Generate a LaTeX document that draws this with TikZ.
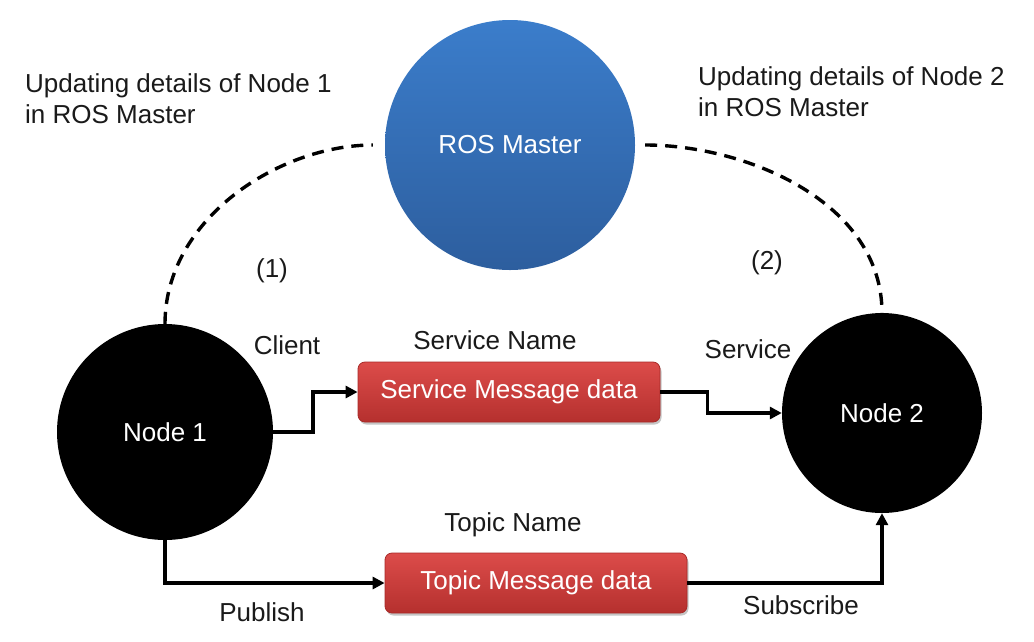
\documentclass[tikz,border=0pt]{standalone}
\usepackage{fontspec}
\setmainfont{Liberation Sans}
\usetikzlibrary{arrows.meta,shadows}
\definecolor{txt}{HTML}{1A1A1A}
\definecolor{bluetop}{HTML}{3B7DCB}
\definecolor{bluebot}{HTML}{2D5E9E}
\definecolor{redtop}{HTML}{DC4C4A}
\definecolor{redbot}{HTML}{B5302E}
\definecolor{redline}{HTML}{A82A28}
\begin{document}
\begin{tikzpicture}[x=1pt,y=-1pt,
  lbl/.style={font=\fontsize{26}{31}\selectfont, text=txt, inner sep=0pt},
  master/.style={circle, minimum size=250pt, inner sep=0pt, top color=bluetop, bottom color=bluebot, draw=none, text=white, font=\fontsize{26}{31}\selectfont},
  blk/.style={circle, fill=black, inner sep=0pt, text=white, font=\fontsize{26}{31}\selectfont},
  msg/.style={rectangle, rounded corners=7pt, minimum width=302pt, minimum height=60pt, top color=redtop, bottom color=redbot, draw=redline, line width=0.8pt, text=white, font=\fontsize{26}{31}\selectfont, drop shadow={shadow xshift=1.5pt, shadow yshift=-2.5pt, fill=black!45, opacity=0.5}},
  conn/.style={line width=3.6pt, -{Triangle[length=12pt,width=12pt]}},
  dsh/.style={line width=3.4pt, dash pattern=on 12pt off 8pt}
]
\useasboundingbox (0,0) rectangle (1034,641);
\fill[white] (0,0) rectangle (1034,641);

% nodes
\node[master] (m) at (510,145) {ROS Master};
\node[blk, minimum size=216pt] (n1) at (165,432) {Node 1};
\node[blk, minimum size=200pt] (n2) at (882,413) {Node 2};
\node[msg] (s) at (509,392) {Service Message data};
\node[msg] (t) at (536,583) {Topic Message data};

% labels
\node[lbl, anchor=north west, align=left] (u1) at (25,73) {Updating details of Node 1\\in ROS Master};
\node[lbl, anchor=north west, align=left] (u2) at (698,66) {Updating details of Node 2\\in ROS Master};
\node[lbl, anchor=base] (p1) at (272,277) {(1)};
\node[lbl, anchor=base] (p2) at (767,269) {(2)};
\node[lbl, anchor=base] (cl) at (287,354) {Client};
\node[lbl, anchor=base] (sn) at (495,349) {Service Name};
\node[lbl, anchor=base] (sv) at (748,358) {Service};
\node[lbl, anchor=base] (tn) at (513,531) {Topic Name};
\node[lbl, anchor=base] (pb) at (262,621) {Publish};
\node[lbl, anchor=base] (sb) at (801,614) {Subscribe};

% dashed registration arcs
\draw[dsh, shorten >=12pt] (n1.north) to[out=90, in=180, looseness=0.95] (m.west);
\draw[dsh, shorten <=10pt] (m.east) to[out=0, in=90, looseness=0.95] (n2.north);

% service connectors
\draw[conn] (n1.east) -- ++(40,0) |- (s.west);
\draw[conn] (s.east) -- ++(47,0) |- (n2.west);

% topic connectors
\draw[conn] (n1.south) |- (t.west);
\draw[conn] (t.east) -| (n2.south);
\end{tikzpicture}
\end{document}
